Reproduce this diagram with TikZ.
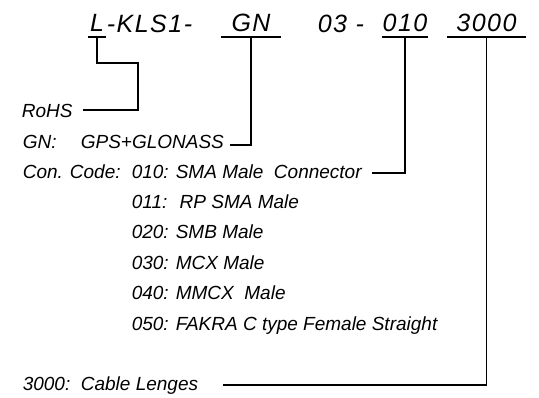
\documentclass[tikz,border=0pt]{standalone}
\usepackage{fontspec}
\setmainfont{Liberation Sans}
\newfontfamily\partfont[LetterSpace=6]{Liberation Sans}
\begin{document}
\begin{tikzpicture}[x=1pt,y=-1pt,line width=1.6pt,
    every node/.style={inner sep=0pt},
    part/.style={font=\partfont\itshape\fontsize{25}{25}\selectfont, anchor=base west},
    under/.style={part, anchor=south, minimum width=#1, text depth=0pt, inner ysep=5pt},
    txt/.style={font=\itshape\fontsize{19}{19}\selectfont, anchor=base west}]
    % Parameters
    \def\rowstep{30.4} % Distance between the connector rows
    \def\rowtop{178} % Baseline of the first connector row

    \useasboundingbox (0,0) rectangle (539,397);

    % Part number along the top
    \node[under=17pt] (pL) at (97,37) {L};
    \node[part] (pKLS) at (106,32) {-KLS1-};
    \node[under=58pt] (pGN) at (251,37) {GN};
    \node[part] (p03) at (317,32) {03 -};
    \node[under=45pt] (p010) at (405,37) {010};
    \node[under=77pt] (p3000) at (486.5,37) {3000};

    % Underlines
    \foreach \n in {pL,pGN,p010,p3000} {
        \draw (\n.south west) -- (\n.south east);
    }

    % Legend texts
    \node[txt] (rohs) at (21,117) {RoHS};
    \node[txt] (gn) at (22,148) {GN:};
    \node[txt] (gps) at (80,148) {GPS+GLONASS};
    \node[txt] (concode) at (22,\rowtop) {Con. Code:};
    \foreach \c/\t [count=\i from 0] in {010/{SMA Male\ \ Connector}, 011/{\ RP SMA Male},
            020/{SMB Male}, 030/{MCX Male}, 040/{MMCX\ \ Male}, 050/{FAKRA C type Female Straight}} {
        \pgfmathsetmacro{\ypos}{\rowtop+\i*\rowstep}
        \node[txt] (con\i) at (131,\ypos) {\c: \t};
    }
    \node[txt] (cable) at (22,390) {3000:\ \ Cable Lenges};

    % Leaders from the part number to the legend
    \draw (pL.south) |- ++(41,26) |- ([shift={(10pt,7pt)}]rohs.base east);
    \draw (pGN.south) |- ([shift={(5pt,3pt)}]gps.base east);
    \draw (p010.south) |- ([shift={(10pt,5pt)}]con0.base east);
    \draw (p3000.south) |- ([shift={(24pt,5pt)}]cable.base east);
\end{tikzpicture}
\end{document}
